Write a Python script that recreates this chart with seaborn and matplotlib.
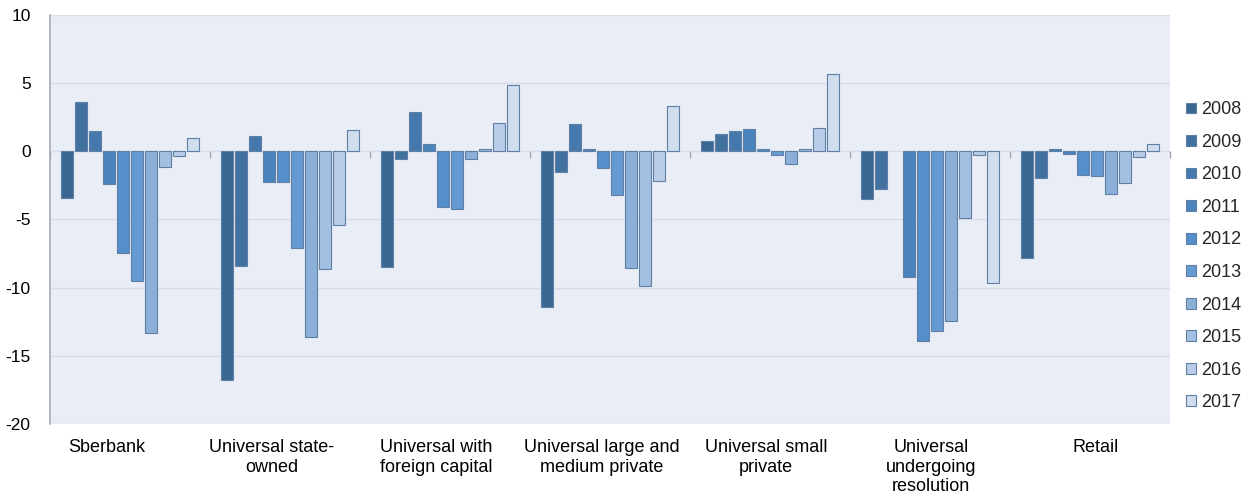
import numpy as np
import pandas as pd
import matplotlib
matplotlib.use("Agg")
import matplotlib.pyplot as plt
from matplotlib.ticker import NullFormatter
import seaborn as sns

categories = ["Sberbank", "Universal state-\nowned", "Universal with\nforeign capital",
              "Universal large and\nmedium private", "Universal small\nprivate",
              "Universal\nundergoing\nresolution", "Retail"]
years = ["2008", "2009", "2010", "2011", "2012", "2013", "2014", "2015", "2016", "2017"]

# values per category, one entry per year 2008..2017
sberbank = [-3.4, 3.6, 1.45, -2.4, -7.45, -9.55, -13.35, -1.15, -0.35, 0.95]
state_owned = [-16.8, -8.4, 1.15, -2.25, -2.25, -7.1, -13.65, -8.6, -5.4, 1.55]
foreign = [-8.5, -0.55, 2.9, 0.5, -4.1, -4.2, -0.6, 0.15, 2.1, 4.85]
large_medium = [-11.45, -1.5, 2.0, 0.2, -1.25, -3.2, -8.55, -9.85, -2.15, 3.3]
small_private = [0.75, 1.25, 1.45, 1.65, 0.2, -0.25, -0.95, 0.15, 1.7, 5.7]
resolution = [-3.5, -2.8, np.nan, -9.25, -13.9, -13.15, -12.45, -4.9, -0.3, -9.65]
retail = [-7.8, -1.95, 0.2, -0.2, -1.75, -1.8, -3.1, -2.35, -0.4, 0.5]

colors = ["#3b6892", "#41729f", "#4579ad", "#4a84bd", "#548fcc",
          "#659bd2", "#8cafd8", "#a3bfe1", "#b9cde8", "#d0ddef"]

series = [sberbank, state_owned, foreign, large_medium, small_private, resolution, retail]
rows = []
for cat, vals in zip(categories, series):
    for yr, v in zip(years, vals):
        rows.append({"category": cat, "year": yr, "value": v})
df = pd.DataFrame(rows)

sns.set_theme(style="white")
plt.rcParams["font.family"] = ["Liberation Sans", "DejaVu Sans"]
plt.rcParams["axes.unicode_minus"] = False

fig = plt.figure(figsize=(12.5, 4.97), dpi=100)
ax = fig.add_axes([0.04, 0.147, 0.896, 0.823])
ax.set_facecolor("#e9edf6")

sns.barplot(data=df, x="category", y="value", hue="year", palette=colors,
            order=categories, hue_order=years, width=0.875, gap=0.2, saturation=1,
            edgecolor="#5f7fa5", linewidth=0.8, ax=ax, zorder=3)

ax.set_ylim(-20, 10)
ax.set_xlim(-0.5, 6.5)
ax.set_yticks([-20, -15, -10, -5, 0, 5, 10])
# category labels in the original sit on a slightly wider spacing than the groups
ax.set_xticks(np.arange(len(categories)) * 1.03 - 0.144)
ax.set_xticklabels(categories)
ax.yaxis.grid(True, color="#d8dce7", linewidth=1, zorder=0)
ax.set_axisbelow(True)
ax.tick_params(axis="y", length=0, pad=14, labelsize=12.5, labelcolor="black")
ax.tick_params(axis="x", length=0, pad=11, labelsize=13, labelcolor="black")
ax.set_xlabel("")
ax.set_ylabel("")
for s in ["top", "right", "bottom"]:
    ax.spines[s].set_visible(False)
ax.spines["left"].set_color("#a8abb3")
ax.spines["left"].set_linewidth(1.2)

# zero line with group separators
zero = ax.secondary_xaxis(2 / 3)
zero.set_xticks(np.arange(-0.5, 7, 1))
zero.xaxis.set_major_formatter(NullFormatter())
zero.xaxis.set_ticks_position("bottom")
zero.tick_params(length=5, width=1, color="#a0a3aa", direction="out")
zero.spines["bottom"].set_color("#a0a3aa")
zero.spines["bottom"].set_linewidth(1.3)
zero.spines["top"].set_visible(False)

handles, labels = ax.get_legend_handles_labels()
ax.legend(handles, labels, loc="center left", bbox_to_anchor=(1.0, 0.41), frameon=False,
          fontsize=13, handlelength=0.55, handleheight=0.55, handletextpad=0.3,
          labelspacing=0.86)

fig.savefig("out.png", dpi=100)
